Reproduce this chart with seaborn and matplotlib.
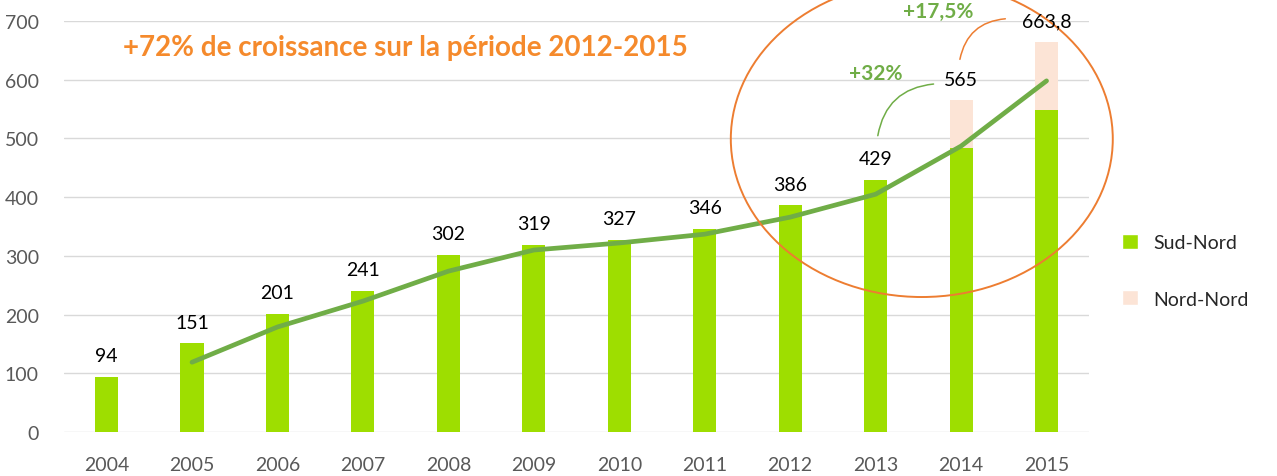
import numpy as np
import pandas as pd
import matplotlib
matplotlib.use("Agg")
import matplotlib.pyplot as plt
from matplotlib.patches import Ellipse, Patch
import seaborn as sns

# data
years = ["2004", "2005", "2006", "2007", "2008", "2009",
         "2010", "2011", "2012", "2013", "2014", "2015"]
sud_nord = [94, 151, 201, 241, 302, 319, 327, 346, 386, 429, 484, 549]
nord_nord = [0, 0, 0, 0, 0, 0, 0, 0, 0, 0, 81, 114.8]
bar_labels = ["94", "151", "201", "241", "302", "319", "327", "346",
              "386", "429", "565", "663,8"]
trend_years = ["2005", "2006", "2007", "2008", "2009", "2010",
               "2011", "2012", "2013", "2014", "2015"]
trend_values = [119, 179, 223, 274, 310, 322, 337, 366, 405, 487, 598]

GREEN = "#9ede00"
PEACH = "#fce4d6"
LINE_GREEN = "#70ad47"
ORANGE = "#ed7d31"
GRAY = "#595959"

sns.set_theme(style="white")
plt.rcParams["font.family"] = ["Lato", "DejaVu Sans"]

df = pd.DataFrame({"year": years, "sud": sud_nord, "nord": nord_nord})
df["total"] = df["sud"] + df["nord"]

fig = plt.figure(figsize=(12.77, 4.77), dpi=100)
ax = fig.add_axes([0.05, 0.092, 0.803, 0.862])

sns.barplot(data=df, x="year", y="total", order=years, color=PEACH,
            width=0.27, saturation=1, linewidth=0, ax=ax)
sns.barplot(data=df, x="year", y="sud", order=years, color=GREEN,
            width=0.27, saturation=1, linewidth=0, ax=ax)

trend_x = [years.index(y) for y in trend_years]
sns.lineplot(x=trend_x, y=trend_values, color=LINE_GREEN, lw=3.4, ax=ax)

# value labels
for i, (tot, lab) in enumerate(zip(df["total"], bar_labels)):
    ax.text(i, tot + 36, lab, ha="center", va="center", fontsize=14,
            color="black", zorder=5)

ax.set_xlim(-0.5, 11.5)
ax.set_ylim(0, 700)
ax.set_yticks(range(0, 701, 100))
ax.yaxis.grid(True, color="#d9d9d9", lw=1)
ax.set_axisbelow(True)
for s in ax.spines.values():
    s.set_visible(False)
ax.set_xlabel("")
ax.set_ylabel("")
ax.tick_params(axis="y", labelsize=14, labelcolor=GRAY, length=0, pad=18)
ax.tick_params(axis="x", labelsize=14, labelcolor=GRAY, length=0, pad=17)

# title in the plot
ax.text(3.5, 655, "+72% de croissance sur la période 2012-2015",
        ha="center", va="center", fontsize=20, fontweight="bold",
        color="#f58a2c")

# orange circle
ax.add_patch(Ellipse((9.54, 499), width=4.47, height=538, fill=False,
                     edgecolor=ORANGE, lw=1.4, clip_on=False, zorder=4))

# growth annotations
ax.text(9.0, 611, "+32%", ha="center", va="center", fontsize=15,
        fontweight="bold", color=LINE_GREEN)
ax.annotate("", xy=(9.71, 593), xytext=(9.02, 500), annotation_clip=False,
            arrowprops=dict(arrowstyle="-", color=LINE_GREEN, lw=1.1,
                            connectionstyle="arc3,rad=-0.4"))
ax.text(9.73, 717, "+17,5%", ha="center", va="center", fontsize=15,
        fontweight="bold", color=LINE_GREEN)
ax.annotate("", xy=(10.55, 704), xytext=(9.98, 630), annotation_clip=False,
            arrowprops=dict(arrowstyle="-", color=ORANGE, lw=1.1,
                            connectionstyle="arc3,rad=-0.4"))

handles = [Patch(facecolor=GREEN, label="Sud-Nord"),
           Patch(facecolor=PEACH, label="Nord-Nord")]
fig.legend(handles=handles, loc="center left", bbox_to_anchor=(0.865, 0.43),
           frameon=False, fontsize=14, labelspacing=2.0, handlelength=0.8,
           handleheight=0.8, handletextpad=0.8)

fig.savefig("out.png", dpi=100)
